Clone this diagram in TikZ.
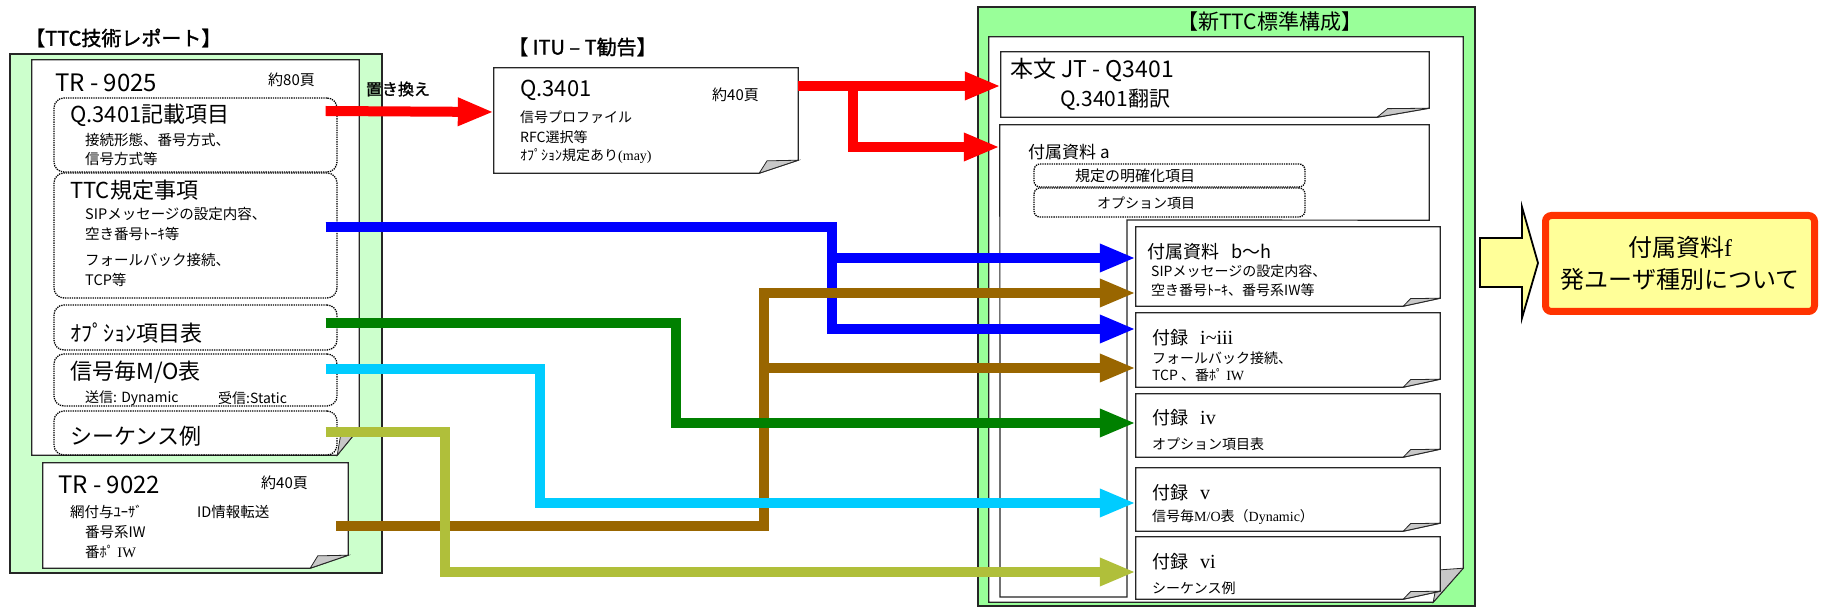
\documentclass[tikz,border=0pt]{standalone}
\usepackage{fontspec}
\setmainfont{Noto Sans CJK JP}
\newfontfamily\jpbold{Noto Sans CJK JP}[FakeBold=1.5]
\newfontfamily\tms{Liberation Serif}
\usetikzlibrary{calc, arrows.meta}

\definecolor{oldgreen}{HTML}{CCFFCC}
\definecolor{newgreen}{HTML}{99FF99}
\definecolor{wred}{HTML}{FF0000}
\definecolor{wblue}{HTML}{0000FF}
\definecolor{wbrown}{HTML}{996600}
\definecolor{wgreen}{HTML}{008000}
\definecolor{wcyan}{HTML}{00CCFF}
\definecolor{wolive}{HTML}{B0BF3A}
\definecolor{noteyellow}{HTML}{FFFF99}
\definecolor{noteborder}{HTML}{FF3300}
\definecolor{curl}{HTML}{C8C8C8}

\tikzset{
    pagearea/.style={rectangle, inner sep=0pt, draw=none}, % invisible frame of a page
    pageline/.style={draw=black!85, line width=1.2pt},
    itembox/.style={rectangle, rounded corners=10pt, draw=black, densely dotted, line width=1.3pt, inner sep=0pt},
    wire/.style={draw=#1, line width=10pt, -{Triangle[length=36pt, width=26pt]}},
    txt/.style={anchor=west, inner sep=0pt, font=\fontsize{#1}{#1}\selectfont},
    txt/.default=14.5,
    head/.style={anchor=west, inner sep=0pt, font=\jpbold\fontsize{20}{20}\selectfont},
}

% page with a curled corner: node name, curl width, curl height
\newcommand\foldpage[3]{%
    \filldraw[pageline, fill=white] (#1.north west) -- (#1.north east)
        -- ($(#1.south east)+(0,-#3)$) -- ($(#1.south east)+(-#2,0)$)
        -- (#1.south west) -- cycle;
    \filldraw[pageline, fill=curl, line width=0.8pt] ($(#1.south east)+(0,-#3)$)
        -- ($(#1.south east)+(-#2,0)$) -- ($(#1.south east)+(-0.8*#2,-0.95*#3)$) -- cycle;
}

\begin{document}
\begin{tikzpicture}[x=1pt, y=-1pt]
    \useasboundingbox (0,0) rectangle (1821,609);

    % TTC技術レポート
    \node[head] (ttctitle) at (25,38) {【TTC技術レポート】};
    \filldraw[pageline, fill=oldgreen] (10,54) rectangle (382,573);

    \node[pagearea, minimum width=327pt, minimum height=395pt] (tr9025) at (195.5,257.5) {};
    \foldpage{tr9025}{22}{27}
    \node[txt=24] (tr9025name) at (55,83) {TR - 9025};
    \node[txt=15] (tr9025pp) at (268,80) {約80頁};

    \node[itembox, minimum width=283pt, minimum height=74pt] (q3401item) at (195.5,135) {};
    \node[txt=22] (q3401name) at (70,115) {Q.3401記載項目};
    \node[txt] (q3401a) at (85,140) {接続形態、番号方式、};
    \node[txt] (q3401b) at (85,159) {信号方式等};

    \node[itembox, minimum width=283pt, minimum height=125pt] (ttcitem) at (195.5,235.5) {};
    \node[txt=22] (ttcname) at (70,190) {TTC規定事項};
    \node[txt] (ttca) at (85,214) {SIPメッセージの設定内容、};
    \node[txt] (ttcb) at (85,234) {空き番号ﾄｰｷ等};
    \node[txt] (ttcc) at (85,260) {フォールバック接続、};
    \node[txt] (ttcd) at (85,280) {TCP等};

    \node[itembox, minimum width=283pt, minimum height=45pt] (optitem) at (195.5,327.5) {};
    \node[txt=22] (optname) at (70,333) {ｵﾌﾟｼｮﾝ項目表};

    \node[itembox, minimum width=283pt, minimum height=52pt] (moitem) at (195.5,380) {};
    \node[txt=22] (moname) at (70,372) {信号毎M/O表};
    \node[txt=14] (mosend) at (85,398) {送信: Dynamic};
    \node[txt=14] (morecv) at (218,398) {受信:Static};

    \node[itembox, minimum width=283pt, minimum height=44pt] (seqitem) at (195.5,433) {};
    \node[txt=22] (seqname) at (70,436) {シーケンス例};

    \node[pagearea, minimum width=305pt, minimum height=105pt] (tr9022) at (195.5,515.5) {};
    \foldpage{tr9022}{38}{13}
    \node[txt=24] (tr9022name) at (58,485) {TR - 9022};
    \node[txt=15] (tr9022pp) at (261,483) {約40頁};
    \node[txt] (tr9022a) at (70,512) {網付与ﾕｰｻﾞ};
    \node[txt] (tr9022b) at (197,512) {ID情報転送};
    \node[txt] (tr9022c) at (85,532) {番号系IW};
    \node[txt] (tr9022d) at (85,552) {番ﾎﾟ {\tms IW}};

    % ITU-T勧告
    \node[head] (itutitle) at (508,47) {【 ITU – T勧告】};
    \node[pagearea, minimum width=304pt, minimum height=105pt] (itu) at (646,120.5) {};
    \foldpage{itu}{39}{13}
    \node[txt=22] (ituname) at (520,90) {Q.3401};
    \node[txt=15] (itupp) at (712,95) {約40頁};
    \node[txt=14] (itua) at (520,117) {信号プロファイル};
    \node[txt=14] (itub) at (520,137) {RFC選択等};
    \node[txt=14] (ituc) at (520,156) {ｵﾌﾟｼｮﾝ規定あり{\tms (may)}};

    % 新TTC標準構成
    \filldraw[pageline, fill=newgreen] (978,7) rectangle (1475,606);
    \node[txt=21] (stdtitle) at (1177,22) {【新TTC標準構成】};
    \node[pagearea, minimum width=474pt, minimum height=565pt] (std) at (1226,319.5) {};
    \foldpage{std}{30}{34}

    \node[pagearea, minimum width=428pt, minimum height=65pt] (jt) at (1215,84.5) {};
    \foldpage{jt}{52}{9}
    \node[txt=23] (jtname) at (1010,70) {本文 JT - Q3401};
    \node[txt=21] (jtsub) at (1060,100) {Q.3401翻訳};

    \node[pagearea, minimum width=429pt, minimum height=95pt] (fa) at (1214.5,172.5) {};
    \filldraw[pageline, fill=white] (fa.north west) -- (fa.north east) -- (fa.south east)
        -- (1127,220) -- (1127,597) -- (1000,597) -- cycle;
    \node[txt=17] (faname) at (1028,152) {付属資料 a};
    \node[itembox, rounded corners=6pt, minimum width=271pt, minimum height=23pt] (clar) at (1169.5,175.5) {};
    \node[txt=15] (clarname) at (1075,176) {規定の明確化項目};
    \node[itembox, rounded corners=6pt, minimum width=271pt, minimum height=29pt] (opta) at (1169.5,202.5) {};
    \node[txt=14] (optaname) at (1097,203) {オプション項目};

    \node[pagearea, minimum width=304pt, minimum height=79pt] (bh) at (1288,266.5) {};
    \foldpage{bh}{37}{8}
    \node[txt=18] (bhname) at (1147,252) {付属資料\hspace{12pt}b〜h};
    \node[txt=14] (bha) at (1151,271) {SIPメッセージの設定内容、};
    \node[txt=14] (bhb) at (1151,290) {空き番号ﾄｰｷ、番号系IW等};

    \node[pagearea, minimum width=304pt, minimum height=74pt] (i3) at (1288,350) {};
    \foldpage{i3}{37}{8}
    \node[txt=18] (i3name) at (1152,338) {付録\hspace{12pt}{\tms\fontsize{20}{20}\selectfont i\textasciitilde iii}};
    \node[txt=14] (i3a) at (1152,358) {フォールバック接続、};
    \node[txt=14] (i3b) at (1152,375) {TCP 、番ﾎﾟ {\tms IW}};

    \node[pagearea, minimum width=304pt, minimum height=63pt] (iv) at (1288,425.5) {};
    \foldpage{iv}{37}{8}
    \node[txt=18] (ivname) at (1152,418) {付録\hspace{12pt}{\tms\fontsize{20}{20}\selectfont iv}};
    \node[txt=14] (iva) at (1152,444) {オプション項目表};

    \node[pagearea, minimum width=304pt, minimum height=63pt] (v) at (1288,499.5) {};
    \foldpage{v}{37}{8}
    \node[txt=18] (vname) at (1152,493) {付録\hspace{12pt}{\tms\fontsize{20}{20}\selectfont v}};
    \node[txt=14] (va) at (1152,517) {信号毎{\tms M/O}表（{\tms Dynamic}）};

    \node[pagearea, minimum width=304pt, minimum height=62pt] (vi) at (1288,568) {};
    \foldpage{vi}{37}{8}
    \node[txt=18] (viname) at (1152,562) {付録\hspace{12pt}{\tms\fontsize{20}{20}\selectfont vi}};
    \node[txt=14] (via) at (1152,588) {シーケンス例};

    % 付属資料f
    \filldraw[draw=black, line width=1.8pt, fill=noteyellow] (1480,238) -- (1522,238) -- (1522,207)
        -- (1538,263) -- (1522,318) -- (1522,287) -- (1480,287) -- cycle;
    \node[draw=noteborder, line width=7pt, fill=noteyellow, rounded corners=6pt, inner sep=0pt,
        minimum width=269pt, minimum height=96pt, align=center,
        font=\fontsize{24}{32}\selectfont] (fbox) at (1680,263.5) {付属資料{\tms f}\\発ユーザ種別について};

    % 接続
    \draw[wire=wred] ($(q3401item.east)+(-12,-24)$) -- node[pos=0.43, above=10pt, inner sep=0pt,
        font=\jpbold\fontsize{16}{16}\selectfont] (replace) {置き換え} ($(itu.west)+(0,-8.5)$);
    \draw[wire=wred] ($(itu.east)+(0,-34.5)$) -- ($(jt.west)+(0,1.5)$);
    \draw[wire=wred] ($(itu.east)+(0,-34.5)$) -| (853,147) -- ($(fa.west)+(0,-25.5)$);
    \draw[wire=wblue] ($(ttcitem.east)+(-12,-8.5)$) -| (832,258) -- ($(bh.west)+(0,-8.5)$);
    \draw[wire=wblue] ($(ttcitem.east)+(-12,-8.5)$) -| (832,329) -- ($(i3.west)+(0,-21)$);
    \draw[wire=wbrown] ($(tr9022.east)+(-12,10.5)$) -| (764,293) -- ($(bh.west)+(0,26.5)$);
    \draw[wire=wbrown] ($(tr9022.east)+(-12,10.5)$) -| (764,368) -- ($(i3.west)+(0,18)$);
    \draw[wire=wgreen] ($(optitem.east)+(-12,-4.5)$) -| (676,423) -- ($(iv.west)+(0,-2.5)$);
    \draw[wire=wcyan] ($(moitem.east)+(-12,-11)$) -| (540,503) -- ($(v.west)+(0,3.5)$);
    \draw[wire=wolive] ($(seqitem.east)+(-12,-1)$) -| (445,572) -- ($(vi.west)+(0,4)$);
\end{tikzpicture}
\end{document}
